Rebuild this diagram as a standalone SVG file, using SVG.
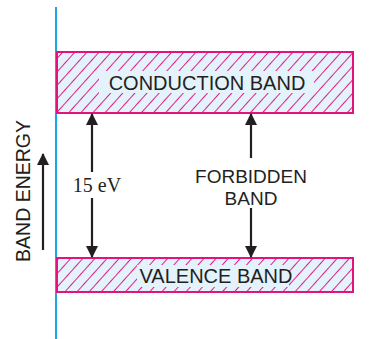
<svg xmlns="http://www.w3.org/2000/svg" width="375" height="339" viewBox="0 0 375 339">
<style>
.band{fill:url(#hatch);stroke:#e4127f;stroke-width:2}
.lbl{font-family:"Liberation Sans",Arial,sans-serif;font-size:20px;fill:#231f20;text-anchor:middle}
.ln{stroke:#231f20;stroke-width:2.2;fill:none}
</style>
<defs>
<pattern id="hatch" patternUnits="userSpaceOnUse" width="9" height="9" patternTransform="rotate(42)">
<rect width="9" height="9" fill="#e3f2fb"/>
<line x1="0" y1="0" x2="0" y2="9" stroke="#e4127f" stroke-width="1.9"/>
</pattern>
<marker id="ah" viewBox="0 0 12 12" refX="11" refY="6" markerWidth="12" markerHeight="12" markerUnits="userSpaceOnUse" orient="auto">
<path d="M0,0 L12,6 L0,12 Z" fill="#231f20"/>
</marker>
</defs>
<rect width="375" height="339" fill="#ffffff"/>
<line x1="56" y1="7" x2="56" y2="339" stroke="#1aa6e0" stroke-width="2"/>
<g id="conduction">
<rect class="band" x="57" y="52" width="296" height="61"/>
<rect x="99" y="71" width="215" height="22" fill="#e3f2fb"/>
<text class="lbl" x="207" y="90">CONDUCTION BAND</text>
</g>
<g id="valence">
<rect class="band" x="57" y="258" width="296" height="34"/>
<rect x="137" y="265" width="152" height="22" fill="#e3f2fb"/>
<text class="lbl" x="216" y="283">VALENCE BAND</text>
</g>
<g id="axis">
<text class="lbl" style="font-size:19.5px" transform="translate(30,191) rotate(-90)">BAND ENERGY</text>
</g>
<g id="connectors">
<line class="ln" x1="43" y1="250" x2="43" y2="154" marker-end="url(#ah)"/>
<line class="ln" x1="92" y1="172" x2="92" y2="114" marker-end="url(#ah)"/>
<line class="ln" x1="92" y1="198" x2="92" y2="257" marker-end="url(#ah)"/>
<line class="ln" x1="251" y1="158" x2="251" y2="114" marker-end="url(#ah)"/>
<line class="ln" x1="251" y1="208" x2="251" y2="257" marker-end="url(#ah)"/>
</g>
<g id="gap15">
<text x="97" y="192" font-family="Liberation Serif,'Times New Roman',serif" font-size="20" fill="#231f20" text-anchor="middle">15 eV</text>
</g>
<g id="forbidden">
<text class="lbl" style="font-size:19px" x="251" y="183">FORBIDDEN</text>
<text class="lbl" style="font-size:19px" x="251" y="205">BAND</text>
</g>
</svg>
